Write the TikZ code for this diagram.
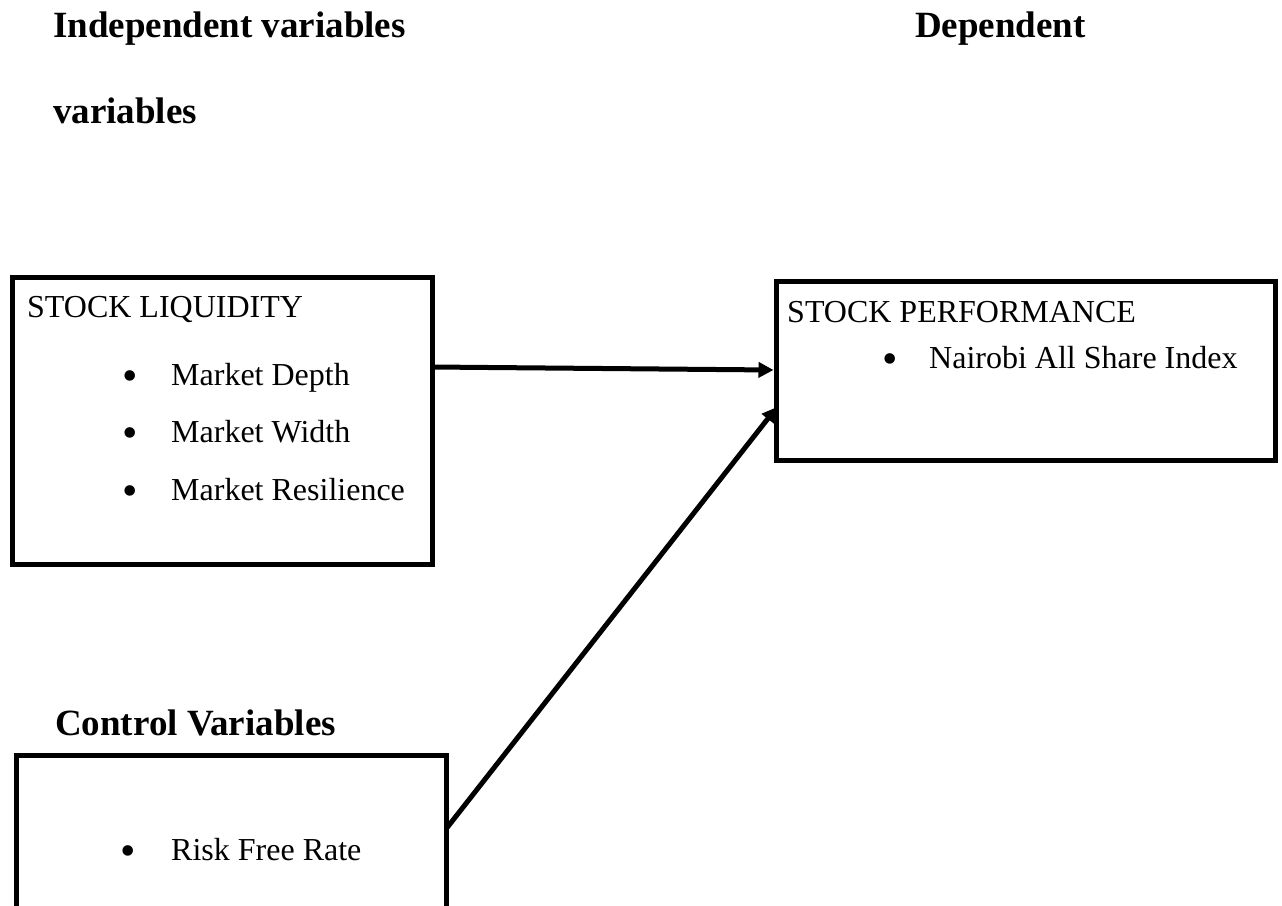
\documentclass[tikz,border=0pt]{standalone}
\usepackage{fontspec}
\setmainfont{Liberation Serif}
\usetikzlibrary{arrows.meta}
\begin{document}
\begin{tikzpicture}[x=1pt,y=-1pt,
  box/.style={draw,line width=5pt,inner sep=0pt,outer sep=0pt,anchor=north west},
  body/.style={font=\fontsize{32}{38}\selectfont,inner sep=0pt,anchor=base west},
  head/.style={font=\fontsize{37}{44}\selectfont\bfseries,inner sep=0pt,anchor=base west},
  bul/.style={font=\fontsize{44}{50}\selectfont,inner sep=0pt,anchor=north},
  link/.style={line width=5pt,-{Triangle[length=15pt,width=15pt]}}]
\clip (0,0) rectangle (1282,905);
\fill[white] (0,0) rectangle (1282,905);
% headings
\node[head] (hind) at (53,37) {Independent variables};
\node[head] (hvar) at (53,123) {variables};
\node[head] (hdep) at (915,37) {Dependent};
\node[head] (hctl) at (55,735) {Control Variables};
% boxes
\node[box,minimum width=419.5pt,minimum height=287pt] (liq) at (12.5,277.5) {};
\node[box,minimum width=499pt,minimum height=179pt] (perf) at (776,281) {};
\node[box,minimum width=430pt,minimum height=170pt] (ctl) at (16,755) {};
% box 1 text
\node[body] (liqt) at (27,317) {STOCK LIQUIDITY};
\node[bul] (b1) at (130,370) {•};
\node[body] (l1) at (171,385) {Market Depth};
\node[bul] (b2) at (130,427) {•};
\node[body] (l2) at (171,442) {Market Width};
\node[bul] (b3) at (130,485) {•};
\node[body] (l3) at (171,500) {Market Resilience};
% box 2 text
\node[body] (perft) at (787,322) {STOCK PERFORMANCE};
\node[bul] (b4) at (890,353) {•};
\node[body] (p1) at (929,368) {Nairobi All Share Index};
% box 3 text
\node[bul] (b5) at (128,845) {•};
\node[body] (c1) at (171,860) {Risk Free Rate};
% connectors
\coordinate (s1) at (432,367);
\coordinate (t1) at (773.5,370);
\coordinate (s2) at (446,829);
\coordinate (t2) at (777,407);
\draw[link] (s1) -- (t1);
\draw[link] (s2) -- (t2);
\end{tikzpicture}
\end{document}
